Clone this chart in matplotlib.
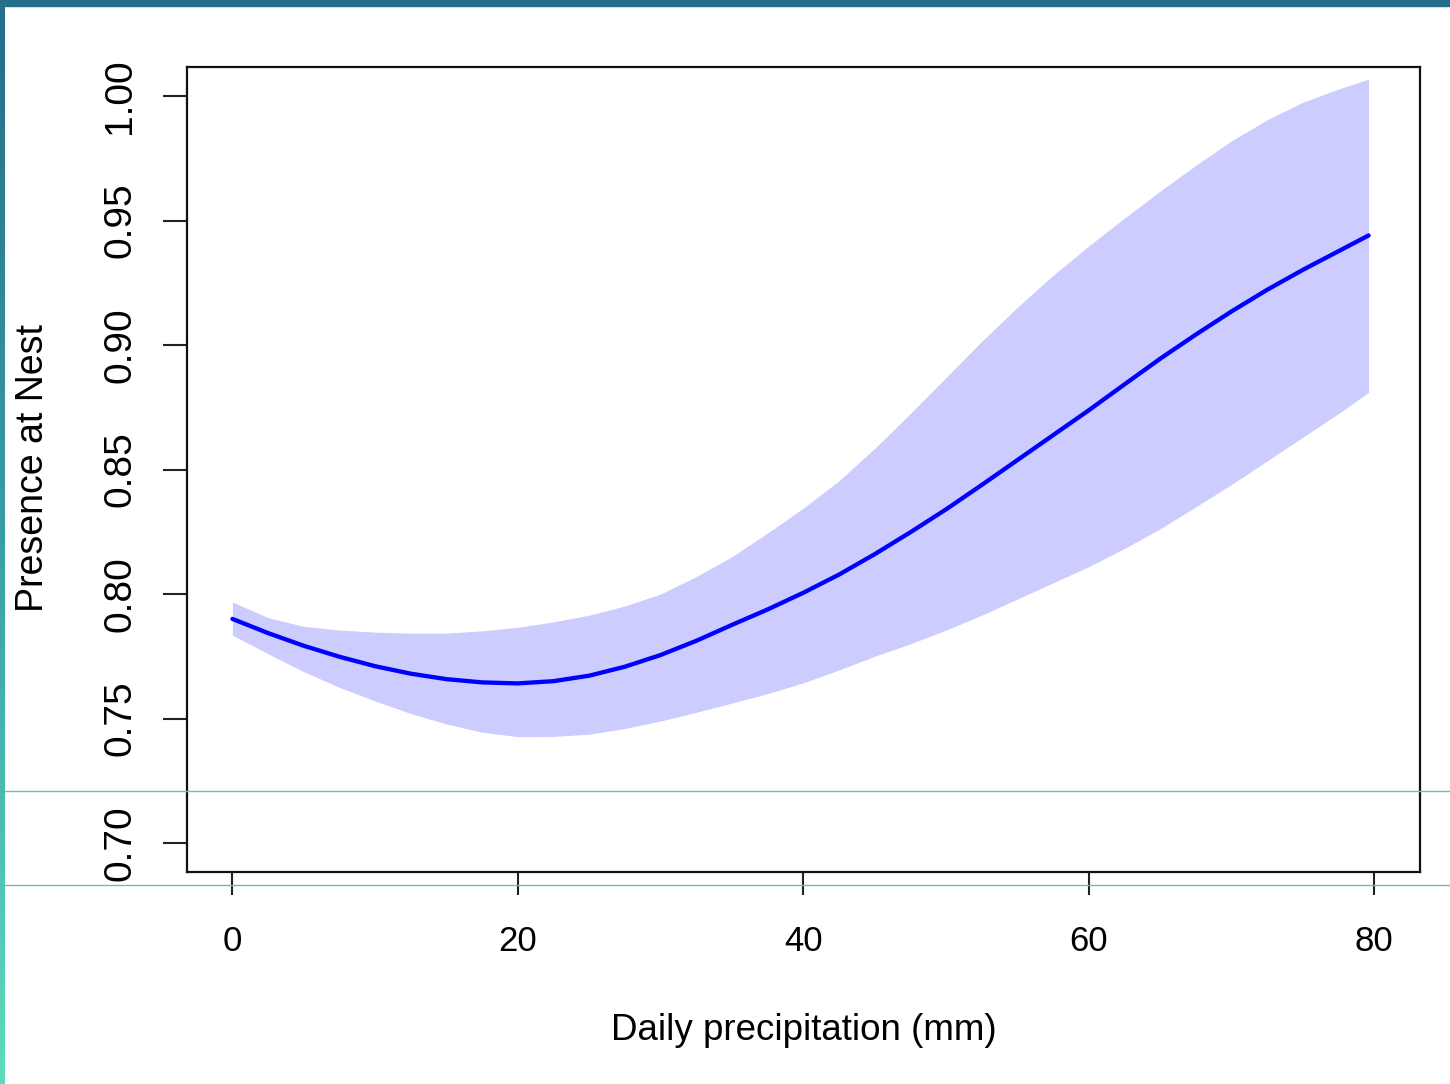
import matplotlib
matplotlib.use("Agg")
import matplotlib.pyplot as plt
import numpy as np
from matplotlib.lines import Line2D
from matplotlib.patches import Rectangle
from matplotlib.colors import LinearSegmentedColormap
from matplotlib import font_manager

# ---- data ----
precip = [0, 2.5, 5, 7.5, 10, 12.5, 15, 17.5, 20, 22.5, 25, 27.5, 30, 32.5, 35, 37.5,
          40, 42.5, 45, 47.5, 50, 52.5, 55, 57.5, 60, 62.5, 65, 67.5, 70, 72.5, 75,
          77.5, 79.6]
fit = [0.7900, 0.7843, 0.7792, 0.7748, 0.7710, 0.7680, 0.7658, 0.7645, 0.7641,
       0.7650, 0.7672, 0.7708, 0.7755, 0.7812, 0.7876, 0.7938, 0.8005, 0.8078,
       0.8160, 0.8248, 0.8340, 0.8438, 0.8538, 0.8638, 0.8738, 0.8842, 0.8945,
       0.9042, 0.9135, 0.9222, 0.9302, 0.9377, 0.9440]
upper = [0.7968, 0.7905, 0.7870, 0.7855, 0.7847, 0.7843, 0.7843, 0.7852, 0.7866,
         0.7888, 0.7915, 0.7952, 0.8000, 0.8070, 0.8150, 0.8245, 0.8345, 0.8455,
         0.8585, 0.8725, 0.8870, 0.9015, 0.9152, 0.9280, 0.9398, 0.9510, 0.9618,
         0.9722, 0.9820, 0.9905, 0.9975, 1.0028, 1.0068]
lower = [0.7835, 0.7760, 0.7688, 0.7625, 0.7570, 0.7520, 0.7478, 0.7445, 0.7427,
         0.7428, 0.7437, 0.7460, 0.7490, 0.7525, 0.7562, 0.7600, 0.7643, 0.7695,
         0.7750, 0.7800, 0.7855, 0.7915, 0.7980, 0.8045, 0.8110, 0.8183, 0.8262,
         0.8350, 0.8440, 0.8535, 0.8630, 0.8725, 0.8810]
xticks = [0, 20, 40, 60, 80]
yticks = [0.70, 0.75, 0.80, 0.85, 0.90, 0.95, 1.00]
xlabel = "Daily precipitation (mm)"
ylabel = "Presence at Nest"

W, H = 1450, 1084
fig = plt.figure(figsize=(W / 100, H / 100), dpi=100)
fig.patch.set_facecolor("white")

names = {f.name for f in font_manager.fontManager.ttflist}
narrow = "Liberation Sans Narrow" if "Liberation Sans Narrow" in names else "Liberation Sans"

ax = fig.add_axes([187 / W, 1 - 872 / H, (1420 - 187) / W, (872 - 67) / H])
ax.fill_between(precip, lower, upper, color="#ccccff", linewidth=0)
ax.plot(precip, fit, color="#0000ff", linewidth=3.1, solid_capstyle="round",
        solid_joinstyle="round")

ax.set_xlim(-3.18, 83.2)
ax.set_ylim(0.7 - 29 / 2490, 1.0 + 29 / 2490)
ax.set_xticks(xticks)
ax.set_yticks(yticks)
ax.set_xticklabels([str(v) for v in xticks], fontfamily="Liberation Sans", fontsize=25)
ax.set_yticklabels([f"{v:.2f}" for v in yticks], fontfamily=narrow, fontsize=28,
                   rotation=90, va="center")
ax.tick_params(axis="x", direction="out", length=16.5, width=1.5, pad=22, color="#222222")
ax.tick_params(axis="y", direction="out", length=17, width=1.5, pad=18, color="#222222")
for s in ax.spines.values():
    s.set_linewidth(1.6)
    s.set_color("#111111")

fig.text(804 / W, 1 - 1031 / H, xlabel, ha="center", va="center",
         fontfamily="Liberation Sans", fontsize=26.5)
fig.text(33 / W, 1 - 468 / H, ylabel, ha="center", va="center", rotation=90,
         fontfamily="Liberation Sans", fontsize=27)

# ---- frame decorations ----
fig.add_artist(Rectangle((0, 1 - 6 / H), 1, 6 / H, transform=fig.transFigure,
                         color="#246d8b", zorder=10))
gax = fig.add_axes([0, 0, 5 / W, 1 - 6 / H])
grad = np.linspace(0, 1, 256).reshape(-1, 1)
cmap = LinearSegmentedColormap.from_list("edge", ["#246d8b", "#3a9fa5", "#5ddcbd"])
gax.imshow(grad, aspect="auto", cmap=cmap, origin="upper")
gax.set_axis_off()
for yy in (791, 885):
    fig.add_artist(Line2D([5 / W, 1], [1 - yy / H, 1 - yy / H], transform=fig.transFigure,
                          color="#6fbfae", linewidth=1.0, zorder=10))

fig.savefig("out.png", dpi=100, facecolor="white")
